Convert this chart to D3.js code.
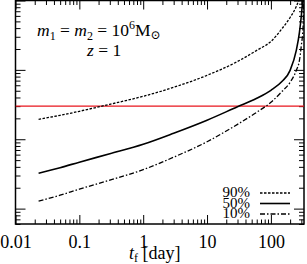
<!DOCTYPE html>
<html lang="en">
<head>
    <meta charset="UTF-8">
    <script src="https://d3js.org/d3.v7.min.js"></script>
    <title>t_f vs fraction</title>
    <style>
        body { margin: 0; background: white; }
        text { font-family: "Liberation Serif", "DejaVu Serif", serif; fill: black; }
    </style>
</head>
<body>
    <script>
        // time before merger [day]
        var tf = [0.023, 0.05, 0.1, 0.3, 1, 3, 10, 30, 60, 100, 150, 200, 250, 280, 300, 320, 328];
        // the three percentiles (y has no labels in the figure)
        var p90 = [19.4, 22.1, 25.3, 31.9, 41.6, 56.0, 83.4, 132, 191, 257, 395, 569, 820, 1069, 1300, 1500, 1600];
        var p50 = [3.24, 3.89, 4.67, 6.18, 8.47, 12.2, 18.8, 29.4, 38.9, 50.7, 68.4, 98.4, 191, 347, 608, 1180, 1500];
        var p10 = [1.28, 1.56, 1.91, 2.57, 3.64, 5.51, 9.20, 16.4, 24.5, 34.1, 49.1, 66.1, 98.4, 137, 226, 436, 1200];
        var seriesNames = ["90%", "50%", "10%"];
        var xMajor = [0.01, 0.1, 1, 10, 100];
        var xLabels = ["0.01", "0.1", "1", "10", "100"];
        var yMajor = [1, 10, 100, 1000];
        var threshold = 30;

        var W = 307, H = 264;
        var L = 15.5, R = 304, T = 0.5, B = 224;

        var svg = d3.select("body").append("svg").attr("width", W).attr("height", H)
            .style("background", "white");

        var x = d3.scaleLog().domain([0.01, 330]).range([L, R]);
        var y = d3.scaleLog().domain([0.6, 1000]).range([B, T]);

        // minor ticks: 2..9 x 10^k inside the domain
        function minors(dom) {
            var out = [];
            for (var k = -3; k <= 3; k++) {
                for (var m = 2; m <= 9; m++) {
                    var v = m * Math.pow(10, k);
                    if (v > dom[0] && v < dom[1]) out.push(v);
                }
            }
            return out;
        }
        var xMinor = minors(x.domain());
        var yMinor = minors(y.domain());

        function styleAxis(g) {
            g.select(".domain").remove();
            g.selectAll(".tick line").attr("stroke", "black").attr("stroke-width", 1);
        }

        // bottom
        svg.append("g").attr("transform", "translate(0," + B + ")")
            .call(d3.axisBottom(x).tickValues(xMajor).tickSize(-9).tickPadding(13)
                .tickFormat(function(d, i) { return xLabels[i]; }))
            .call(styleAxis)
            .selectAll("text").attr("font-size", 18).attr("font-family", "Liberation Serif").attr("dy", "0.62em");
        svg.append("g").attr("transform", "translate(0," + B + ")")
            .call(d3.axisBottom(x).tickValues(xMinor).tickSize(-4.5).tickFormat(""))
            .call(styleAxis);
        // top
        svg.append("g").attr("transform", "translate(0," + T + ")")
            .call(d3.axisTop(x).tickValues(xMajor).tickSize(-9).tickFormat(""))
            .call(styleAxis);
        svg.append("g").attr("transform", "translate(0," + T + ")")
            .call(d3.axisTop(x).tickValues(xMinor).tickSize(-4.5).tickFormat(""))
            .call(styleAxis);
        // left
        svg.append("g").attr("transform", "translate(" + L + ",0)")
            .call(d3.axisLeft(y).tickValues(yMajor).tickSize(-10).tickFormat(""))
            .call(styleAxis);
        svg.append("g").attr("transform", "translate(" + L + ",0)")
            .call(d3.axisLeft(y).tickValues(yMinor).tickSize(-5).tickFormat(""))
            .call(styleAxis);
        // right
        svg.append("g").attr("transform", "translate(" + R + ",0)")
            .call(d3.axisRight(y).tickValues(yMajor).tickSize(-10).tickFormat(""))
            .call(styleAxis);
        svg.append("g").attr("transform", "translate(" + R + ",0)")
            .call(d3.axisRight(y).tickValues(yMinor).tickSize(-5).tickFormat(""))
            .call(styleAxis);

        // frame
        svg.append("rect").attr("x", L).attr("y", T).attr("width", R - L).attr("height", B - T)
            .attr("fill", "none").attr("stroke", "black").attr("stroke-width", 1.5);

        svg.append("clipPath").attr("id", "clip").append("rect")
            .attr("x", L).attr("y", T).attr("width", R - L).attr("height", B - T);

        var plot = svg.append("g").attr("clip-path", "url(#clip)");

        // threshold line
        plot.append("line").attr("x1", L).attr("x2", R)
            .attr("y1", y(threshold)).attr("y2", y(threshold))
            .attr("stroke", "#e8141c").attr("stroke-width", 1.2);

        var dashes = ["2.5,1.5", null, "5,2,1.5,2"];
        var series = [p90, p50, p10];
        var line = d3.line().curve(d3.curveMonotoneX)
            .x(function(d) { return x(d[0]); })
            .y(function(d) { return y(d[1]); });

        series.forEach(function(s, i) {
            plot.append("path")
                .datum(tf.map(function(t, j) { return [t, s[j]]; }))
                .attr("d", line)
                .attr("fill", "none").attr("stroke", "black")
                .attr("stroke-width", i == 1 ? 1.6 : 1.3)
                .attr("stroke-dasharray", dashes[i]);
        });

        // legend
        var legY = [193, 203.5, 214];
        seriesNames.forEach(function(n, i) {
            svg.append("text").attr("x", 250).attr("y", legY[i] + 4)
                .attr("text-anchor", "end").attr("font-size", 15).text(n);
            svg.append("line").attr("x1", 260).attr("x2", 290)
                .attr("y1", legY[i]).attr("y2", legY[i])
                .attr("stroke", "black").attr("stroke-width", i == 1 ? 1.6 : 1.3)
                .attr("stroke-dasharray", dashes[i]);
        });

        // annotation
        var ann = svg.append("text").attr("x", 37).attr("y", 36).attr("font-size", 17.5);
        ann.append("tspan").attr("font-style", "italic").text("m");
        ann.append("tspan").attr("font-size", 12).attr("dy", 4).text("1");
        ann.append("tspan").attr("dy", -4).text(" = ");
        ann.append("tspan").attr("font-style", "italic").text("m");
        ann.append("tspan").attr("font-size", 12).attr("dy", 4).text("2");
        ann.append("tspan").attr("dy", -4).text(" = 10");
        ann.append("tspan").attr("font-size", 12).attr("dy", -7).text("6");
        ann.append("tspan").attr("dy", 7).text("M");
        ann.append("tspan").attr("font-size", 12).attr("dy", 3).text("\u2299");

        var ann2 = svg.append("text").attr("x", 87).attr("y", 56).attr("font-size", 17.5);
        ann2.append("tspan").attr("font-style", "italic").text("z");
        ann2.append("tspan").text(" = 1");

        // x title
        var xt = svg.append("text").attr("x", 129).attr("y", 259).attr("font-size", 18);
        xt.append("tspan").attr("font-style", "italic").text("t");
        xt.append("tspan").attr("font-size", 12).attr("dy", 3).text("f");
        xt.append("tspan").attr("dy", -3).text("   [day]");
    </script>
</body>
</html>
